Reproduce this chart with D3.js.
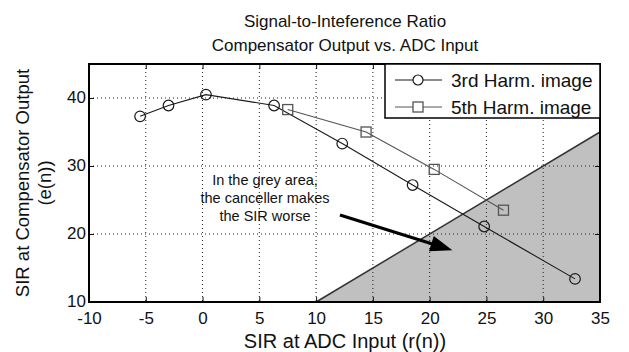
<!DOCTYPE html>
<html>
<head>
<meta charset="utf-8">
<script src="https://cdn.jsdelivr.net/npm/d3@7"></script>
<style>
  body { margin: 0; background: #fff; }
  svg text { font-family: "Liberation Sans", Arial, sans-serif; fill: #111; }
</style>
</head>
<body>
<div id="chart"></div>
<script>
// data
const harm3X = [-5.5, -3.0, 0.3, 6.3, 12.3, 18.5, 24.8, 32.8];
const harm3Y = [37.3, 38.9, 40.5, 38.9, 33.3, 27.2, 21.1, 13.4];
const harm5X = [7.5, 14.4, 20.4, 26.5];
const harm5Y = [38.3, 35.0, 29.5, 23.5];
const xTicks = [-10, -5, 0, 5, 10, 15, 20, 25, 30, 35];
const yTicks = [10, 20, 30, 40];
const seriesNames = ["3rd Harm. image", "5th Harm. image"];
const titleLines = ["Signal-to-Inteference Ratio", "Compensator Output vs. ADC Input"];
const noteLines = ["In the grey area,", "the canceller makes", "the SIR worse"];

const W = 629, H = 352;
const margin = {top: 64, right: 29, bottom: 50, left: 89};
const width = W - margin.left - margin.right;
const height = H - margin.top - margin.bottom;

const svg = d3.select("#chart").append("svg")
    .attr("width", W)
    .attr("height", H);

const g = svg.append("g")
    .attr("transform", "translate(" + margin.left + "," + margin.top + ")");

const x = d3.scaleLinear().domain([-10, 35]).range([0, width]);
const y = d3.scaleLinear().domain([10, 45]).range([height, 0]);

// grey region where output SIR < input SIR
const grey = [[10, 10], [35, 35], [35, 10]];
g.append("path")
    .attr("d", d3.line().x(d => x(d[0])).y(d => y(d[1]))(grey) + "Z")
    .attr("fill", "#c0c0c0")
    .attr("stroke", "none");
g.append("line")
    .attr("x1", x(10)).attr("y1", y(10))
    .attr("x2", x(35)).attr("y2", y(35))
    .attr("stroke", "#333")
    .attr("stroke-width", 1.5);

// dotted grid
g.append("g").selectAll("line")
    .data(xTicks.slice(1, -1))
    .enter().append("line")
    .attr("x1", d => x(d)).attr("x2", d => x(d))
    .attr("y1", 0).attr("y2", height)
    .attr("stroke", "#222").attr("stroke-dasharray", "1,3");
g.append("g").selectAll("line")
    .data(yTicks.slice(1))
    .enter().append("line")
    .attr("x1", 0).attr("x2", width)
    .attr("y1", d => y(d)).attr("y2", d => y(d))
    .attr("stroke", "#222").attr("stroke-dasharray", "1,3");

// axes, ticks pointing inward like matlab
const tickFont = "17px";
g.append("g")
    .attr("transform", "translate(0," + height + ")")
    .call(d3.axisBottom(x).tickValues(xTicks).tickFormat(d => String(d))
        .tickSizeInner(-5).tickSizeOuter(0).tickPadding(10))
    .call(a => a.selectAll("text").attr("font-size", tickFont).attr("fill", "#111"));
g.append("g")
    .call(d3.axisLeft(y).tickValues(yTicks).tickFormat(d => String(d))
        .tickSizeInner(-5).tickSizeOuter(0).tickPadding(3))
    .call(a => a.selectAll("text").attr("font-size", tickFont).attr("fill", "#111").attr("dy", "0.28em"));
g.append("g")
    .call(d3.axisTop(x).tickValues(xTicks).tickSizeInner(-5).tickSizeOuter(0).tickFormat(""));
g.append("g")
    .attr("transform", "translate(" + width + ",0)")
    .call(d3.axisRight(y).tickValues(yTicks).tickSizeInner(-5).tickSizeOuter(0).tickFormat(""));
g.selectAll(".domain").remove();
g.selectAll(".tick line").attr("stroke", "#111");
g.selectAll("text").attr("font-family", null);

// box
g.append("rect")
    .attr("width", width).attr("height", height)
    .attr("fill", "none").attr("stroke", "#000").attr("stroke-width", 2);

// series
const line = d3.line().x(d => x(d[0])).y(d => y(d[1]));
const s3 = harm3X.map((v, i) => [v, harm3Y[i]]);
const s5 = harm5X.map((v, i) => [v, harm5Y[i]]);

g.append("path").attr("d", line(s5))
    .attr("fill", "none").attr("stroke", "#555").attr("stroke-width", 1.1);
g.append("path").attr("d", line(s3))
    .attr("fill", "none").attr("stroke", "#1a1a1a").attr("stroke-width", 1.1);

g.append("g").selectAll("rect")
    .data(s5)
    .enter().append("rect")
    .attr("x", d => x(d[0]) - 5).attr("y", d => y(d[1]) - 5)
    .attr("width", 10).attr("height", 10)
    .attr("fill", "none").attr("stroke", "#555").attr("stroke-width", 1.3);
g.append("g").selectAll("circle")
    .data(s3)
    .enter().append("circle")
    .attr("cx", d => x(d[0])).attr("cy", d => y(d[1]))
    .attr("r", 5.3)
    .attr("fill", "none").attr("stroke", "#1a1a1a").attr("stroke-width", 1.2);

// annotation + arrow
const note = g.append("text")
    .attr("text-anchor", "middle")
    .attr("font-size", "14.5px");
noteLines.forEach((t, i) => {
    note.append("tspan")
        .attr("x", x(5.5))
        .attr("y", y(27.2) + i * 18)
        .text(t);
});
const from = [x(12.1), y(22.8)];
const tip = [x(22.0), y(17.6)];
const ang = Math.atan2(tip[1] - from[1], tip[0] - from[0]);
const L = 22, Wd = 8;
const bx = tip[0] - L * Math.cos(ang), by = tip[1] - L * Math.sin(ang);
g.append("line")
    .attr("x1", from[0]).attr("y1", from[1])
    .attr("x2", bx + 2 * Math.cos(ang)).attr("y2", by + 2 * Math.sin(ang))
    .attr("stroke", "#000").attr("stroke-width", 3.2);
g.append("path")
    .attr("d", "M" + tip[0] + "," + tip[1] +
        "L" + (bx + Wd * Math.sin(ang)) + "," + (by - Wd * Math.cos(ang)) +
        "L" + (bx - Wd * Math.sin(ang)) + "," + (by + Wd * Math.cos(ang)) + "Z")
    .attr("fill", "#000");

// legend
const lg = g.append("g").attr("transform", "translate(" + (width - 215) + ",0)");
lg.append("rect")
    .attr("width", 215).attr("height", 54)
    .attr("fill", "#fff").attr("stroke", "#000").attr("stroke-width", 1.5);
seriesNames.forEach((name, i) => {
    const ly = 16 + i * 27;
    lg.append("line")
        .attr("x1", 10).attr("x2", 57).attr("y1", ly).attr("y2", ly)
        .attr("stroke", i ? "#555" : "#1a1a1a").attr("stroke-width", 1.1);
    if (i === 0) {
        lg.append("circle").attr("cx", 33).attr("cy", ly).attr("r", 5)
            .attr("fill", "#fff").attr("stroke", "#1a1a1a").attr("stroke-width", 1.2);
    } else {
        lg.append("rect").attr("x", 28).attr("y", ly - 5).attr("width", 10).attr("height", 10)
            .attr("fill", "#fff").attr("stroke", "#555").attr("stroke-width", 1.3);
    }
    lg.append("text")
        .attr("x", 66).attr("y", ly).attr("dy", "0.35em")
        .attr("font-size", "19px")
        .text(name);
});

// titles and axis labels
svg.append("text")
    .attr("text-anchor", "middle")
    .attr("font-size", "17px")
    .selectAll("tspan")
    .data(titleLines)
    .enter().append("tspan")
    .attr("x", 345)
    .attr("y", (d, i) => 27 + i * 24)
    .text(d => d);

svg.append("text")
    .attr("text-anchor", "middle")
    .attr("font-size", "20px")
    .attr("x", 345).attr("y", 348)
    .text("SIR at ADC Input (r(n))");

const yl = svg.append("text")
    .attr("text-anchor", "middle")
    .attr("font-size", "18.5px")
    .attr("transform", "translate(29," + (margin.top + height / 2) + ") rotate(-90)");
yl.append("tspan").attr("x", 0).attr("y", 0).text("SIR at Compensator Output");
yl.append("tspan").attr("x", 0).attr("y", 22).text("(e(n))");
</script>
</body>
</html>
